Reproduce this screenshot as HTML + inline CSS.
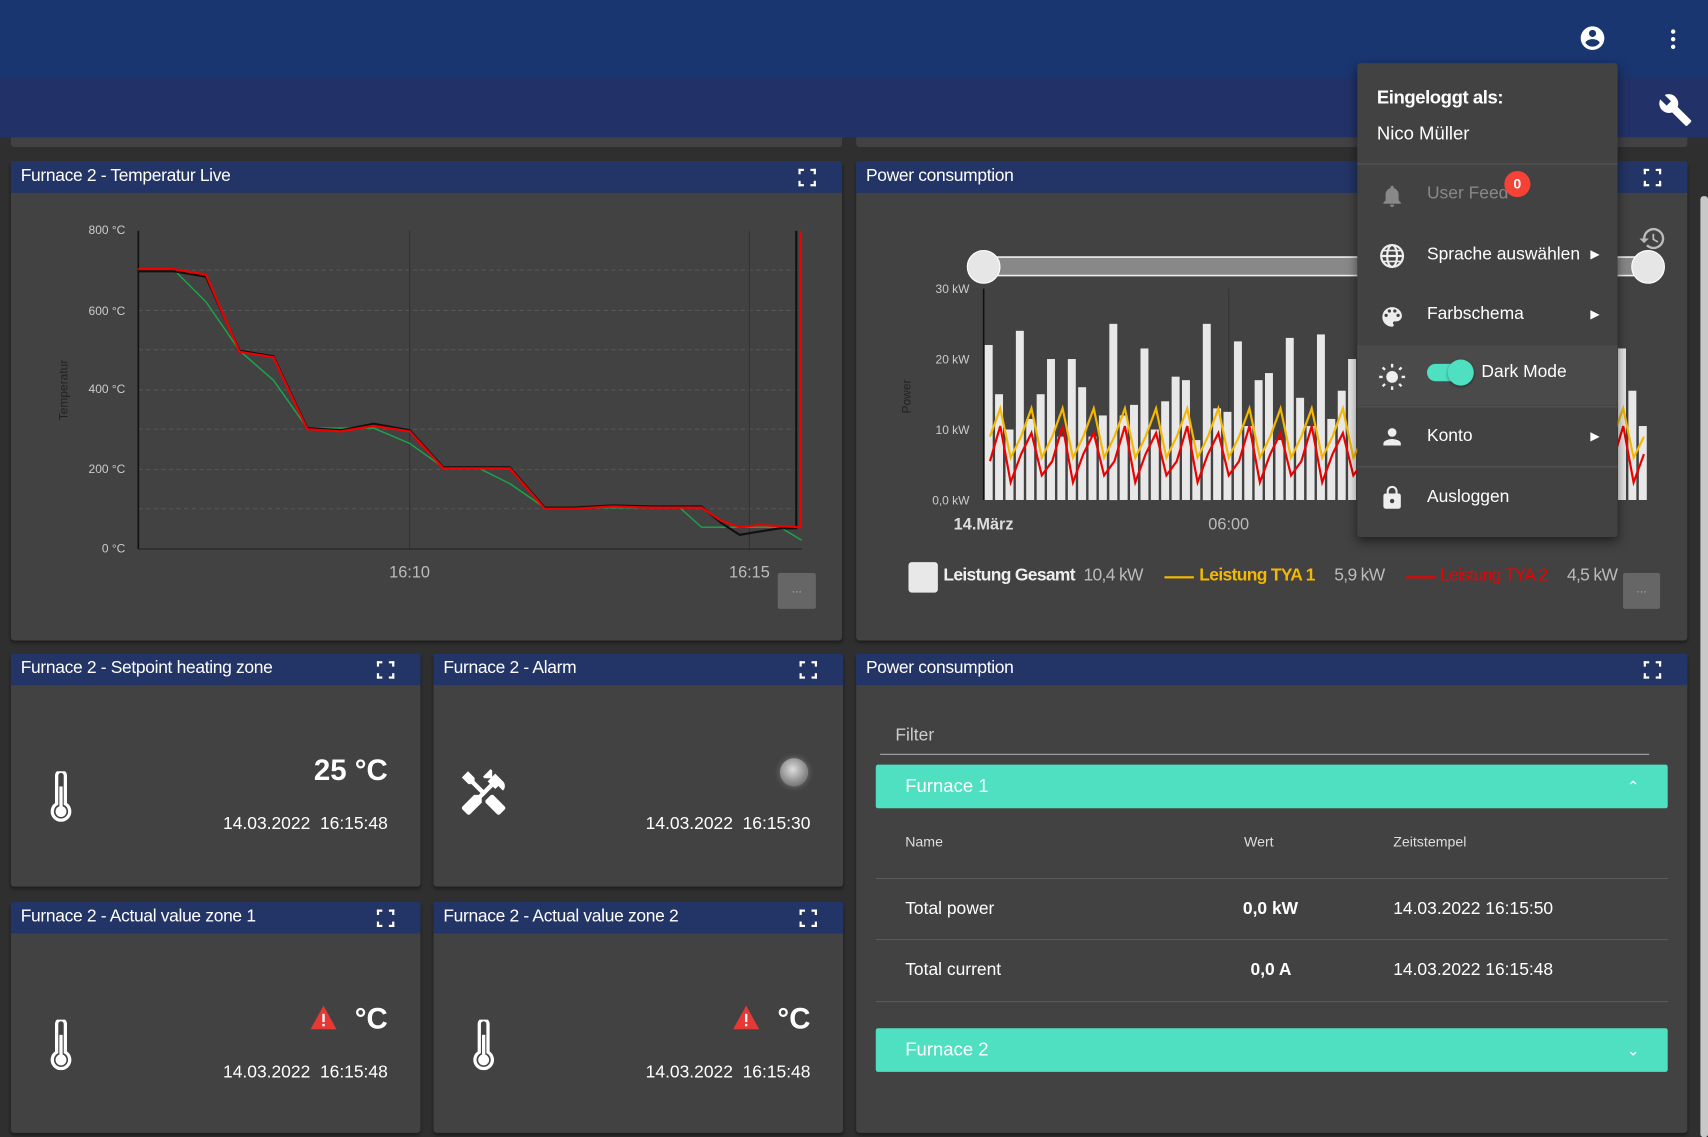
<!DOCTYPE html>
<html><head><meta charset="utf-8">
<style>
html,body{margin:0;padding:0;width:1708px;height:1137px;overflow:hidden;background:#2f2f2f;}
#w{position:absolute;left:0;top:0;width:1568px;height:1044px;transform:scale(1.08929);transform-origin:0 0;font-family:"Liberation Sans",sans-serif;color:#fff;}
.a{position:absolute;}
.panel{position:absolute;background:#424242;border-radius:3px;box-shadow:0 2px 3px rgba(0,0,0,.4);}
.hdr{position:absolute;left:0;right:0;top:0;height:29px;background:#233466;font-size:16px;line-height:27px;padding-left:9px;letter-spacing:-0.3px;}
.fs{position:absolute;right:24px;top:7px;width:16px;height:16px;}
.fs i{position:absolute;width:3px;height:3px;border:2px solid #fff;}
.mi{position:absolute;left:0;width:239px;font-size:16px;}
.big{font-size:27px;font-weight:bold;}
.ts{font-size:16px;}
</style></head><body><div id="w">
<div class="a" style="left:0;top:0;width:1568px;height:72px;background:#1a3670;"></div>
<div class="a" style="left:0;top:72px;width:1568px;height:54px;background:#223268;"></div>
<div class="a" style="left:10px;top:126px;width:763px;height:9px;background:#424242;border-radius:0 0 3px 3px;"></div>
<div class="a" style="left:786px;top:126px;width:763px;height:9px;background:#424242;border-radius:0 0 3px 3px;"></div>
<svg class="a" style="left:1449px;top:22px" width="26" height="26" viewBox="0 0 24 24"><path fill="#fff" d="M12 2C6.480 2 2 6.48 2 12s4.48 10 10 10 10-4.48 10-10S17.52 2 12 2zm0 3c1.66 0 3 1.34 3 3s-1.34 3-3 3-3-1.34-3-3 1.34-3 3-3zm0 14.2c-2.5 0-4.71-1.28-6-3.220.03-1.99 4-3.08 6-3.08 1.99 0 5.97 1.09 6 3.08-1.29 1.94-3.5 3.22-6 3.22z"/></svg>
<svg class="a" style="left:1524px;top:24px" width="24" height="24" viewBox="0 0 24 24"><circle cx="12" cy="5" r="2" fill="#fff"/><circle cx="12" cy="12" r="2" fill="#fff"/><circle cx="12" cy="19" r="2" fill="#fff"/></svg>
<svg class="a" style="left:1522px;top:85px" width="32" height="32" viewBox="0 0 24 24"><path fill="#fff" d="M22.7 19l-9.1-9.1c.9-2.3.4-5-1.5-6.9-2-2-5-2.4-7.4-1.3L9 6 6 9 1.6 4.7C.4 7.1.9 10.1 2.9 12.1c1.9 1.9 4.6 2.4 6.9 1.5l9.1 9.1c.4.4 1 .4 1.4 0l2.3-2.3c.5-.4.5-1.1.1-1.4z"/></svg>
<div class="a" style="left:1561px;top:180px;width:7px;height:864px;background:#c8c8c8;border-radius:3px;"></div>

<div class="panel" style="left:10px;top:148px;width:763px;height:440px;">
<div class="hdr">Furnace 2 - Temperatur Live<div class="fs"><i style="left:0;top:0;border-width:2px 0 0 2px"></i><i style="right:0;top:0;border-width:2px 2px 0 0"></i><i style="left:0;bottom:0;border-width:0 0 2px 2px"></i><i style="right:0;bottom:0;border-width:0 2px 2px 0"></i></div></div>
</div>
<svg class="a" style="left:0;top:0" width="780" height="600">
<g stroke="#555" stroke-dasharray="4,3" stroke-width="1">
<line x1="127" x2="736" y1="248" y2="248"/><line x1="127" x2="736" y1="321" y2="321"/><line x1="127" x2="736" y1="394" y2="394"/><line x1="127" x2="736" y1="431" y2="431"/><line x1="127" x2="736" y1="467" y2="467"/><line x1="127" x2="736" y1="285" y2="285"/><line x1="127" x2="736" y1="358" y2="358"/></g>
<line x1="376" x2="376" y1="212" y2="504" stroke="#333"/><line x1="688" x2="688" y1="212" y2="504" stroke="#333"/>
<line x1="127" x2="127" y1="212" y2="504" stroke="#111" stroke-width="1.5"/><line x1="127" x2="736" y1="504" y2="504" stroke="#222"/>
<g font-size="11" fill="#ccc" text-anchor="end" font-family="Liberation Sans"><text x="115" y="215">800 °C</text><text x="115" y="289">600 °C</text><text x="115" y="361">400 °C</text><text x="115" y="434">200 °C</text><text x="115" y="507">0 °C</text></g>
<text transform="translate(62,358) rotate(-90)" font-size="11" fill="#222" text-anchor="middle">Temperatur</text>
<g font-size="15" fill="#bbb" text-anchor="middle"><text x="376" y="530">16:10</text><text x="688" y="530">16:15</text></g>
<polyline fill="none" stroke="#1aa64a" stroke-width="1.3" points="127,247 159,247 189,277 220,322 251,349 282,393 343,393 376,407 407,429 438,429 468,444 500,466 624,466 644,484 716,484 736,496"/>
<polyline fill="none" stroke="#111" stroke-width="2" points="127,249 159,249 189,254 220,322 251,327 282,393 313,395 343,389 376,395 407,429 468,429 500,466 527,466 562,464 597,465 644,465 662,480 679,491 697,488 716,485 731,485 731,212"/>
<polyline fill="none" stroke="#e00" stroke-width="2" points="127,247 159,247 189,252 220,323 251,328 282,394 313,396 343,391 376,396 407,430 468,430 500,467 527,467 562,465 597,466 644,466 662,478 679,484 697,482 716,483 735,484 735,212"/>
</svg>
<div class="a" style="left:714px;top:526px;width:35px;height:33px;background:#666;border-radius:2px;color:#aaa;font-size:11px;text-align:center;line-height:30px;">...</div>

<div class="panel" style="left:786px;top:148px;width:763px;height:440px;">
<div class="hdr">Power consumption<div class="fs"><i style="left:0;top:0;border-width:2px 0 0 2px"></i><i style="right:0;top:0;border-width:2px 2px 0 0"></i><i style="left:0;bottom:0;border-width:0 0 2px 2px"></i><i style="right:0;bottom:0;border-width:0 2px 2px 0"></i></div></div>
</div>
<svg class="a" id="pc" style="left:0;top:0" width="1568" height="600"></svg>
<div class="a" style="left:834px;top:516px;width:27px;height:28px;background:#e8e8e8;border-radius:3px;"></div>
<div class="a" style="left:866px;top:520px;font-size:16px;font-weight:bold;color:#eee;letter-spacing:-0.6px;white-space:nowrap">Leistung Gesamt <span style="font-weight:normal;color:#bbb;margin-left:4px">10,4 kW</span></div>
<div class="a" style="left:1069px;top:529px;width:27px;height:2px;background:#f5b800;"></div>
<div class="a" style="left:1101px;top:520px;font-size:16px;font-weight:bold;color:#f5b800;letter-spacing:-0.6px;white-space:nowrap">Leistung TYA 1 <span style="font-weight:normal;color:#bbb;margin-left:14px">5,9 kW</span></div>
<div class="a" style="left:1291px;top:529px;width:27px;height:2px;background:#e00;"></div>
<div class="a" style="left:1322px;top:520px;font-size:16px;color:#e00;letter-spacing:-0.6px;white-space:nowrap">Leistung TYA 2 <span style="color:#bbb;margin-left:14px">4,5 kW</span></div>
<div class="a" style="left:1490px;top:526px;width:34px;height:33px;background:#666;border-radius:2px;color:#aaa;font-size:11px;text-align:center;line-height:30px;">...</div>
<svg class="a" style="left:1504px;top:206px" width="26" height="26" viewBox="0 0 24 24"><path fill="#bbb" d="M13 3a9 9 0 0 0-9 9H1l3.9 3.9L9 12H6a7 7 0 1 1 2.05 4.95l-1.42 1.42A9 9 0 1 0 13 3zm-1 5v5l4.28 2.54.72-1.21-3.5-2.08V8H12z"/></svg>

<div class="panel" style="left:10px;top:600px;width:376px;height:214px;">
<div class="hdr">Furnace 2 - Setpoint heating zone<div class="fs"><i style="left:0;top:0;border-width:2px 0 0 2px"></i><i style="right:0;top:0;border-width:2px 2px 0 0"></i><i style="left:0;bottom:0;border-width:0 0 2px 2px"></i><i style="right:0;bottom:0;border-width:0 2px 2px 0"></i></div></div>
<div class="a big" style="right:30px;top:92px;">25 °C</div>
<div class="a ts" style="right:30px;top:148px;">14.03.2022&nbsp; 16:15:48</div>
<svg class="a" style="left:33px;top:108px" width="26" height="48" viewBox="0 0 26 48"><path d="M9 4a4 4 0 0 1 8 0v26a8 8 0 1 1-8 0z" fill="none" stroke="#fff" stroke-width="3"/><rect x="11.5" y="14" width="3" height="20" fill="#fff"/><circle cx="13" cy="37" r="5" fill="#fff"/></svg>
</div>
<div class="panel" style="left:398px;top:600px;width:376px;height:214px;">
<div class="hdr">Furnace 2 - Alarm<div class="fs"><i style="left:0;top:0;border-width:2px 0 0 2px"></i><i style="right:0;top:0;border-width:2px 2px 0 0"></i><i style="left:0;bottom:0;border-width:0 0 2px 2px"></i><i style="right:0;bottom:0;border-width:0 2px 2px 0"></i></div></div>
<div class="a" style="left:318px;top:96px;width:26px;height:26px;border-radius:50%;background:radial-gradient(circle at 45% 40%,#ddd,#888 60%,#555);box-shadow:0 0 6px #777"></div>
<div class="a ts" style="right:30px;top:148px;">14.03.2022&nbsp; 16:15:30</div>
<svg class="a" style="left:22px;top:104px" width="48" height="48" viewBox="0 0 24 24"><path fill="#fff" d="M21.67 18.17l-5.3-5.3h-.99l-2.54 2.54v.99l5.3 5.3c.39.39 1.02.39 1.41 0l2.12-2.12c.39-.38.39-1.02 0-1.41zM17.34 10.19l1.41-1.41 2.12 2.12a3 3 0 0 0 0-4.24l-3.54-3.54-1.41 1.41V1.71l-.7-.71-3.54 3.54.71.71h2.83l-1.410 1.41 1.06 1.06-2.89 2.89-4.13-4.13V5.06L4.83 2.04 2 4.87 5.03 7.9h1.41l4.13 4.13-.85.85H7.6l-5.3 5.3a1 1 0 0 0 0 1.41l2.12 2.12c.39.39 1.02.39 1.41 0l5.3-5.3v-2.12l5.15-5.15 1.06 1.05z"/></svg>
</div>
<div class="panel" style="left:10px;top:828px;width:376px;height:212px;">
<div class="hdr">Furnace 2 - Actual value zone 1<div class="fs"><i style="left:0;top:0;border-width:2px 0 0 2px"></i><i style="right:0;top:0;border-width:2px 2px 0 0"></i><i style="left:0;bottom:0;border-width:0 0 2px 2px"></i><i style="right:0;bottom:0;border-width:0 2px 2px 0"></i></div></div>
<div class="a big" style="right:30px;top:92px;">°C</div>
<svg class="a" style="left:274px;top:94px" width="26" height="24" viewBox="0 0 24 22"><path d="M12 1L23 21H1z" fill="#e53935"/><rect x="11" y="8" width="2" height="7" fill="#fff"/><rect x="11" y="16.5" width="2" height="2" fill="#fff"/></svg>
<div class="a ts" style="right:30px;top:148px;">14.03.2022&nbsp; 16:15:48</div>
<svg class="a" style="left:33px;top:108px" width="26" height="48" viewBox="0 0 26 48"><path d="M9 4a4 4 0 0 1 8 0v26a8 8 0 1 1-8 0z" fill="none" stroke="#fff" stroke-width="3"/><rect x="11.5" y="14" width="3" height="20" fill="#fff"/><circle cx="13" cy="37" r="5" fill="#fff"/></svg>
</div>
<div class="panel" style="left:398px;top:828px;width:376px;height:212px;">
<div class="hdr">Furnace 2 - Actual value zone 2<div class="fs"><i style="left:0;top:0;border-width:2px 0 0 2px"></i><i style="right:0;top:0;border-width:2px 2px 0 0"></i><i style="left:0;bottom:0;border-width:0 0 2px 2px"></i><i style="right:0;bottom:0;border-width:0 2px 2px 0"></i></div></div>
<div class="a big" style="right:30px;top:92px;">°C</div>
<svg class="a" style="left:274px;top:94px" width="26" height="24" viewBox="0 0 24 22"><path d="M12 1L23 21H1z" fill="#e53935"/><rect x="11" y="8" width="2" height="7" fill="#fff"/><rect x="11" y="16.5" width="2" height="2" fill="#fff"/></svg>
<div class="a ts" style="right:30px;top:148px;">14.03.2022&nbsp; 16:15:48</div>
<svg class="a" style="left:33px;top:108px" width="26" height="48" viewBox="0 0 26 48"><path d="M9 4a4 4 0 0 1 8 0v26a8 8 0 1 1-8 0z" fill="none" stroke="#fff" stroke-width="3"/><rect x="11.5" y="14" width="3" height="20" fill="#fff"/><circle cx="13" cy="37" r="5" fill="#fff"/></svg>
</div>
<div class="panel" style="left:786px;top:600px;width:763px;height:440px;">
<div class="hdr">Power consumption<div class="fs"><i style="left:0;top:0;border-width:2px 0 0 2px"></i><i style="right:0;top:0;border-width:2px 2px 0 0"></i><i style="left:0;bottom:0;border-width:0 0 2px 2px"></i><i style="right:0;bottom:0;border-width:0 2px 2px 0"></i></div></div>
<div class="a" style="left:36px;top:67px;font-size:16px;color:#ccc;">Filter</div>
<div class="a" style="left:22px;top:92px;width:706px;height:1px;background:#aaa;"></div>
<div class="a" style="left:18px;top:102px;width:727px;height:40px;background:#4fe0c2;border-radius:2px;font-size:17px;line-height:40px;padding-left:27px;box-sizing:border-box;">Furnace 1<span style="position:absolute;right:26px;top:0;font-size:14px;">&#8963;</span></div>
<div class="a" style="left:45px;top:165px;font-size:13px;color:#ddd;">Name</div>
<div class="a" style="left:356px;top:165px;font-size:13px;color:#ddd;">Wert</div>
<div class="a" style="left:493px;top:165px;font-size:13px;color:#ddd;">Zeitstempel</div>
<div class="a" style="left:18px;top:206px;width:727px;height:1px;background:#5a5a5a;"></div>
<div class="a" style="left:45px;top:226px;font-size:16px;">Total power</div>
<div class="a" style="left:355px;top:226px;font-size:16px;font-weight:bold;">0,0 kW</div>
<div class="a" style="left:493px;top:226px;font-size:16px;">14.03.2022 16:15:50</div>
<div class="a" style="left:18px;top:262px;width:727px;height:1px;background:#5a5a5a;"></div>
<div class="a" style="left:45px;top:282px;font-size:16px;">Total current</div>
<div class="a" style="left:362px;top:282px;font-size:16px;font-weight:bold;">0,0 A</div>
<div class="a" style="left:493px;top:282px;font-size:16px;">14.03.2022 16:15:48</div>
<div class="a" style="left:18px;top:319px;width:727px;height:1px;background:#5a5a5a;"></div>
<div class="a" style="left:18px;top:344px;width:727px;height:40px;background:#4fe0c2;border-radius:2px;font-size:17px;line-height:40px;padding-left:27px;box-sizing:border-box;">Furnace 2<span style="position:absolute;right:26px;top:0;font-size:14px;">&#8964;</span></div>
</div>

<div class="a" style="left:1246px;top:58px;width:239px;height:435px;background:#424242;border-radius:3px;box-shadow:0 4px 10px rgba(0,0,0,.5);">
<div class="a" style="left:18px;top:22px;font-size:17px;font-weight:bold;letter-spacing:-0.4px">Eingeloggt als:</div>
<div class="a" style="left:18px;top:55px;font-size:17px;">Nico Müller</div>
<div class="a" style="left:0;top:92px;width:239px;height:1px;background:#555"></div>
<div class="mi" style="top:111px;color:#888"><span style="position:absolute;left:64px">User Feed</span><span style="position:absolute;left:135px;top:-12px;width:24px;height:24px;border-radius:50%;background:#f44336;color:#fff;font-size:13px;font-weight:bold;text-align:center;line-height:24px">0</span></div>
<svg class="a" style="left:20px;top:110px" width="24" height="24" viewBox="0 0 24 24"><path fill="#888" d="M12 22c1.1 0 2-.9 2-2h-4a2 2 0 0 0 2 2zm6-6v-5c0-3.07-1.64-5.64-4.5-6.32V4a1.5 1.5 0 0 0-3 0v.68C7.63 5.36 6 7.92 6 11v5l-2 2v1h16v-1l-2-2z"/></svg>
<svg class="a" style="left:20px;top:165px" width="24" height="24" viewBox="0 0 24 24"><circle cx="12" cy="12" r="10" fill="none" stroke="#eee" stroke-width="2"/><ellipse cx="12" cy="12" rx="4.5" ry="10" fill="none" stroke="#eee" stroke-width="2"/><line x1="2" y1="12" x2="22" y2="12" stroke="#eee" stroke-width="2"/><line x1="4" y1="7" x2="20" y2="7" stroke="#eee" stroke-width="1.5"/><line x1="4" y1="17" x2="20" y2="17" stroke="#eee" stroke-width="1.5"/></svg>
<div class="mi" style="top:167px"><span style="position:absolute;left:64px">Sprache auswählen</span><span style="position:absolute;left:214px;font-size:11px;top:2px">&#9654;</span></div>
<svg class="a" style="left:20px;top:221px" width="24" height="24" viewBox="0 0 24 24"><path fill="#eee" d="M12 3a9 9 0 0 0 0 18c.83 0 1.5-.67 1.5-1.5 0-.39-.15-.74-.39-1.010-.23-.26-.38-.61-.38-.99 0-.83.67-1.5 1.5-1.5H16c2.76 0 5-2.24 5-5 0-4.42-4.03-8-9-8zm-5.5 9a1.5 1.5 0 1 1 0-3 1.5 1.5 0 0 1 0 3zm3-4a1.5 1.5 0 1 1 0-3 1.5 1.5 0 0 1 0 3zm5 0a1.5 1.5 0 1 1 0-3 1.5 1.5 0 0 1 0 3zm3 4a1.5 1.5 0 1 1 0-3 1.5 1.5 0 0 1 0 3z"/></svg>
<div class="mi" style="top:222px"><span style="position:absolute;left:64px">Farbschema</span><span style="position:absolute;left:214px;font-size:11px;top:2px">&#9654;</span></div>
<div class="a" style="left:0;top:259px;width:239px;height:55px;background:#4a4a4a"></div>
<svg class="a" style="left:19px;top:275px" width="26" height="26" viewBox="0 0 24 24"><circle cx="12" cy="12" r="5" fill="#eee"/><g stroke="#eee" stroke-width="2"><line x1="12" y1="1" x2="12" y2="4"/><line x1="12" y1="20" x2="12" y2="23"/><line x1="1" y1="12" x2="4" y2="12"/><line x1="20" y1="12" x2="23" y2="12"/><line x1="4" y1="4" x2="6" y2="6"/><line x1="18" y1="18" x2="20" y2="20"/><line x1="4" y1="20" x2="6" y2="18"/><line x1="18" y1="6" x2="20" y2="4"/></g></svg>
<div class="a" style="left:64px;top:276px;width:40px;height:16px;border-radius:8px;background:#4fe0c2"></div>
<div class="a" style="left:83px;top:272px;width:24px;height:24px;border-radius:50%;background:#4fe0c2;box-shadow:0 1px 3px rgba(0,0,0,.4)"></div>
<div class="mi" style="top:275px"><span style="position:absolute;left:114px">Dark Mode</span></div>
<div class="a" style="left:0;top:315px;width:239px;height:1px;background:#555"></div>
<svg class="a" style="left:20px;top:331px" width="24" height="24" viewBox="0 0 24 24"><path fill="#eee" d="M12 12a4 4 0 1 0 0-8 4 4 0 0 0 0 8zm0 2c-2.67 0-8 1.34-8 4v2h16v-2c0-2.66-5.33-4-8-4z"/></svg>
<div class="mi" style="top:334px"><span style="position:absolute;left:64px">Konto</span><span style="position:absolute;left:214px;font-size:11px;top:2px">&#9654;</span></div>
<div class="a" style="left:0;top:370px;width:239px;height:1px;background:#555"></div>
<svg class="a" style="left:20px;top:386px" width="24" height="26" viewBox="0 0 24 24"><path fill="#eee" d="M18 8h-1V6A5 5 0 0 0 7 6v2H6c-1.1 0-2 .9-2 2v10c0 1.1.9 2 2 2h12c1.1 0 2-.9 2-2V10c0-1.1-.9-2-2-2zm-6 9a2 2 0 1 1 0-4 2 2 0 0 1 0 4zm3.1-9H8.9V6a3.1 3.1 0 0 1 6.2 0v2z"/></svg>
<div class="mi" style="top:390px"><span style="position:absolute;left:64px">Ausloggen</span></div>
</div>

<script>
(function(){
var s=document.getElementById('pc'),h='';
function Y(v){return 459-v*6.47;}
h+='<rect x="903" y="236" width="610" height="17" fill="#888" stroke="#eee" stroke-width="1.5" rx="1"/>';
h+='<circle cx="903" cy="245" r="15" fill="#e6e6e6" stroke="#fff"/><circle cx="1513" cy="245" r="15" fill="#e6e6e6" stroke="#fff"/>';
h+='<line x1="903" y1="265" x2="903" y2="459" stroke="#111" stroke-width="1.5"/><line x1="1128" y1="265" x2="1128" y2="459" stroke="#333"/>';
var lab=[[30,'30 kW'],[20,'20 kW'],[10,'10 kW'],[0,'0,0 kW']];
lab.forEach(function(l){h+='<text x="890" y="'+(Y(l[0])+4)+'" font-size="11" fill="#ccc" text-anchor="end" font-family="Liberation Sans">'+l[1]+'</text>';});
h+='<text transform="translate(836,364) rotate(-90)" font-size="11" fill="#222" text-anchor="middle" font-family="Liberation Sans">Power</text>';
h+='<text x="903" y="486" font-size="15" fill="#ddd" text-anchor="middle" font-weight="bold" font-family="Liberation Sans">14.März</text><text x="1128" y="486" font-size="15" fill="#bbb" text-anchor="middle" font-family="Liberation Sans">06:00</text>';
var hs=[22,15,10,24,11.5,15,20,9,20,16,9,12,25,12,13.5,21.5,10,14,17.5,17,8.5,25,13,12.5,22.5,10.5,17,18,8.5,23,14.5,10.5,23.5,11.5,15.5,20,10,21,16,9,12,25,12,13.5,21.5,10,14,17.5,17,8.5,25,13,12.5,22.5,10.5,17,18,8.5,23,14.5,20.5,21.5,15.5,10.5];
var n=hs.length,bw=610/n,y1=[],y2=[];
for(var i=0;i<n;i++){var x=904+i*bw;h+='<rect x="'+x.toFixed(1)+'" y="'+Y(hs[i]).toFixed(1)+'" width="'+(bw-2.2).toFixed(1)+'" height="'+(459-Y(hs[i])).toFixed(1)+'" fill="#e8e8e8"/>';
var a=(i%3==1)?13:((i%3==0)?9:6),b=a-3.5+(i%2);y1.push((x+bw/2).toFixed(1)+','+Y(a).toFixed(1));y2.push((x+bw/2).toFixed(1)+','+Y(b).toFixed(1));}
h+='<polyline fill="none" stroke="#f5b800" stroke-width="2" points="'+y1.join(' ')+'"/>';
h+='<polyline fill="none" stroke="#e00" stroke-width="2" points="'+y2.join(' ')+'"/>';
s.innerHTML=h;
})();
</script>
</div></body></html>
